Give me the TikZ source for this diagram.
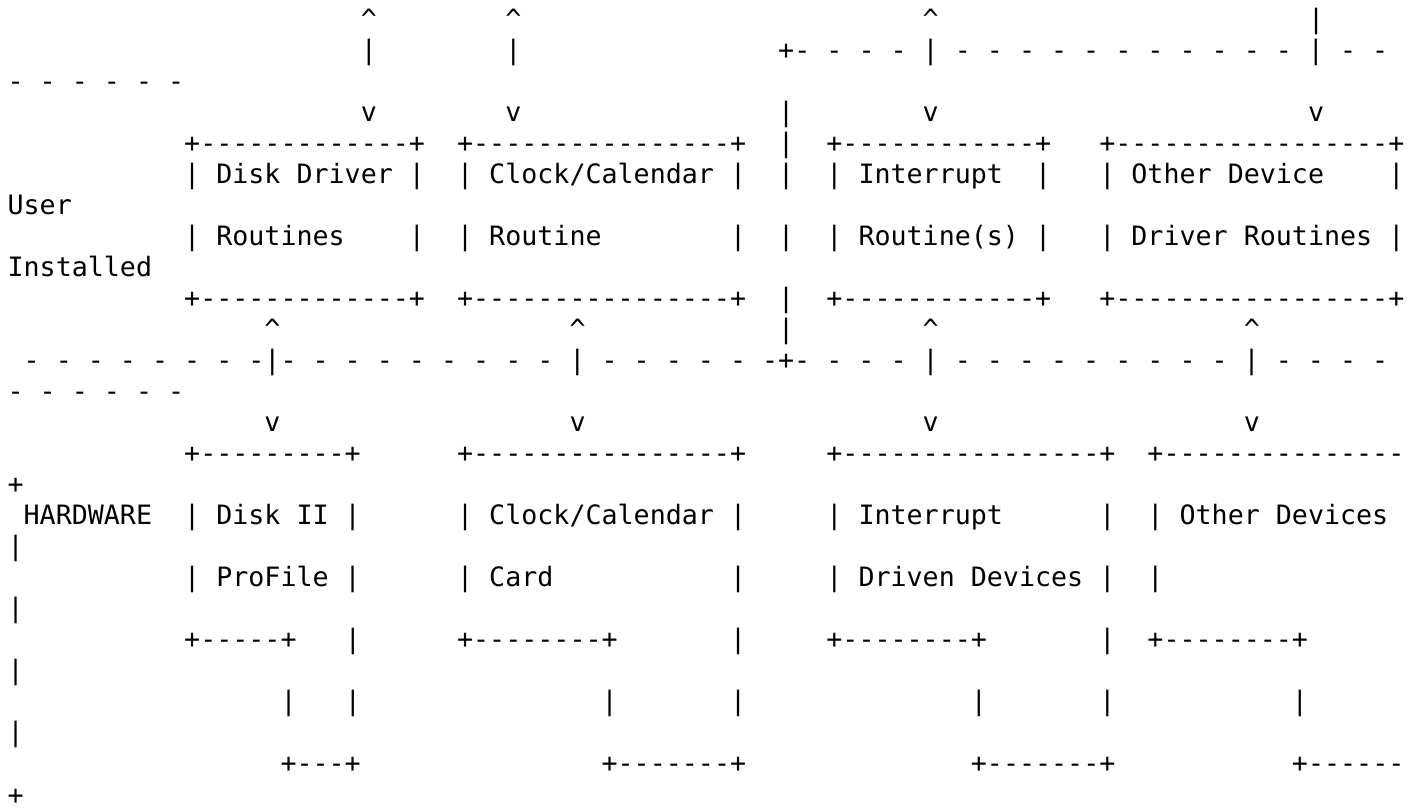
\documentclass[tikz,border=0pt]{standalone}
\usepackage{fontspec}
\newfontfamily\asciifont{DejaVu Sans Mono}[Ligatures={TeXOff,NoCommon}]
\usetikzlibrary{positioning}
\tikzset{
    %Define style for one run of characters
    ascii/.style={
           anchor=base west,
           inner sep=0pt,
           outer sep=0pt,
           font=\asciifont\fontsize{20pt}{23.28pt}\selectfont}
}
% place text at (row, column) of the character grid
\newcommand{\charat}[3]{%
  \node[ascii] (r#1c#2) at ({5.7pt+#2*12.041pt},{-21pt-#1*23.28pt}) {#3};}
\newcommand{\up}{\textasciicircum}

\begin{document}
\begin{tikzpicture}
    \path[use as bounding box, fill=white] (0,0) rectangle (1065pt,-605.25pt);
 %user installed routines
    \charat{0}{22}{\up}  \charat{0}{31}{\up}  \charat{0}{57}{\up}  \charat{0}{81}{|}
    \charat{1}{22}{|}    \charat{1}{31}{|}
    \charat{1}{48}{+- - - - | - - - - - - - - - - - | - -}
    \charat{2}{0}{- - - - - -}
    \charat{3}{22}{v}    \charat{3}{31}{v}    \charat{3}{48}{|}
    \charat{3}{57}{v}    \charat{3}{81}{v}
    \charat{4}{11}{+-------------+}  \charat{4}{28}{+----------------+}
    \charat{4}{48}{|}
    \charat{4}{51}{+------------+}   \charat{4}{68}{+-----------------+}
    \charat{5}{11}{| Disk Driver |}  \charat{5}{28}{| Clock/Calendar |}
    \charat{5}{48}{|}  \charat{5}{51}{| Interrupt}  \charat{5}{64}{|}
    \charat{5}{68}{| Other Device}   \charat{5}{86}{|}
    \charat{6}{0}{User}
    \charat{7}{11}{| Routines}  \charat{7}{25}{|}
    \charat{7}{28}{| Routine}   \charat{7}{45}{|}  \charat{7}{48}{|}
    \charat{7}{51}{| Routine(s) |}  \charat{7}{68}{| Driver Routines |}
    \charat{8}{0}{Installed}
    \charat{9}{11}{+-------------+}  \charat{9}{28}{+----------------+}
    \charat{9}{48}{|}
    \charat{9}{51}{+------------+}   \charat{9}{68}{+-----------------+}
 %dashed border
    \charat{10}{16}{\up}  \charat{10}{35}{\up}  \charat{10}{48}{|}
    \charat{10}{57}{\up}  \charat{10}{77}{\up}
    \charat{11}{1}{- - - - - - - -|- - - - - - - - - | - - - - - -+- - - - | - - - - - - - - - | - - - -}
    \charat{12}{0}{- - - - - -}
    \charat{13}{16}{v}  \charat{13}{35}{v}  \charat{13}{57}{v}  \charat{13}{77}{v}
 %hardware
    \charat{14}{11}{+---------+}  \charat{14}{28}{+----------------+}
    \charat{14}{51}{+----------------+}  \charat{14}{71}{+---------------}
    \charat{15}{0}{+}
    \charat{16}{1}{HARDWARE}  \charat{16}{11}{| Disk II |}
    \charat{16}{28}{| Clock/Calendar |}  \charat{16}{51}{| Interrupt}
    \charat{16}{68}{|}  \charat{16}{71}{| Other Devices}
    \charat{17}{0}{|}
    \charat{18}{11}{| ProFile |}  \charat{18}{28}{| Card}  \charat{18}{45}{|}
    \charat{18}{51}{| Driven Devices |}  \charat{18}{71}{|}
    \charat{19}{0}{|}
    \charat{20}{11}{+-----+}  \charat{20}{21}{|}
    \charat{20}{28}{+--------+}  \charat{20}{45}{|}
    \charat{20}{51}{+--------+}  \charat{20}{68}{|}
    \charat{20}{71}{+--------+}
    \charat{21}{0}{|}
    \foreach \c in {17,21,37,45,60,68,80}
      {\charat{22}{\c}{|}}
    \charat{23}{0}{|}
    \charat{24}{17}{+---+}  \charat{24}{37}{+-------+}
    \charat{24}{60}{+-------+}  \charat{24}{80}{+------}
    \charat{25}{0}{+}
\end{tikzpicture}
\end{document}
